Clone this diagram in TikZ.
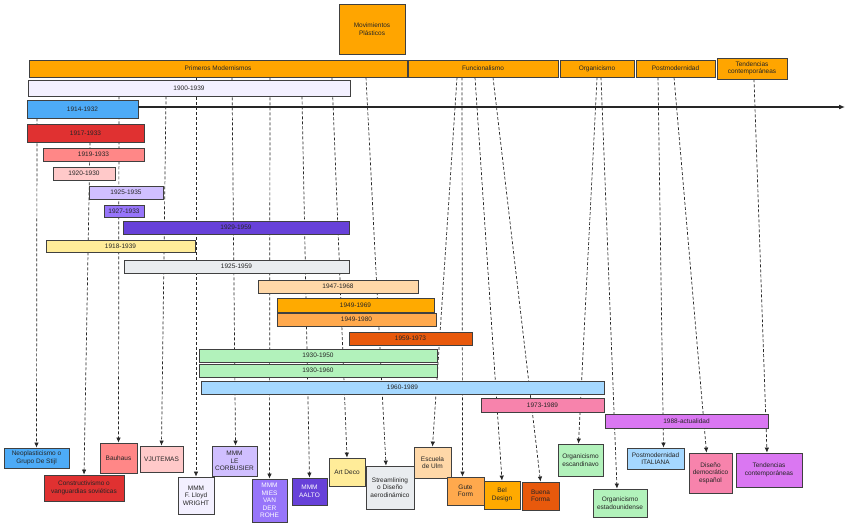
\documentclass[tikz,border=0pt]{standalone}
\usepackage{fontspec}
\setmainfont{Liberation Sans}
\usetikzlibrary{arrows.meta,backgrounds}
\definecolor{corange}{HTML}{FFA500}
\definecolor{clav}{HTML}{F3F0FF}
\definecolor{cblue}{HTML}{4DABF7}
\definecolor{cred}{HTML}{E03131}
\definecolor{cpink}{HTML}{FF8787}
\definecolor{clpink}{HTML}{FFC9C9}
\definecolor{clpurple}{HTML}{D0BFFF}
\definecolor{cpurple}{HTML}{9775FA}
\definecolor{cdpurple}{HTML}{6741D9}
\definecolor{cyellow}{HTML}{FFEC99}
\definecolor{cgrey}{HTML}{E9ECEF}
\definecolor{clorange}{HTML}{FFD8A8}
\definecolor{corangeb}{HTML}{FFAA00}
\definecolor{corangec}{HTML}{FFA94D}
\definecolor{cdorange}{HTML}{E8590C}
\definecolor{cgreen}{HTML}{B2F2BB}
\definecolor{clblue}{HTML}{A5D8FF}
\definecolor{crose}{HTML}{F783AC}
\definecolor{cviolet}{HTML}{DA77F2}
\begin{document}
\begin{tikzpicture}[x=1pt,y=-1pt,
  box/.style={draw=black!75, line width=0.8pt, inner sep=1pt, align=center,
    font=\fontsize{6.5}{7.5}\selectfont, text=black!85},
  wh/.style 2 args={minimum width=#1pt, minimum height=#2pt},
  conn/.style={draw=black!85, line width=0.7pt, dash pattern=on 3pt off 2pt,
    -{Latex[length=5pt,width=4.5pt]}},
  axisline/.style={draw=black!85, line width=1.2pt, -{Latex[length=6pt,width=5pt]}}]
\useasboundingbox (0,0) rectangle (848,527);
% category boxes
\node[box, fill=corange, wh={66}{50}] (mov) at (372,29) {Movimientos\\Plásticos};
\node[box, fill=corange, wh={378}{17}] (prim) at (218,68.5) {Primeros Modernismos};
\node[box, fill=corange, wh={150}{17}] (func) at (483,68.5) {Funcionalismo};
\node[box, fill=corange, wh={74}{17}] (org) at (597,68.5) {Organicismo};
\node[box, fill=corange, wh={79}{17}] (post) at (675.5,68.5) {Postmodernidad};
\node[box, fill=corange, wh={70}{21}] (tend) at (752,68.5) {Tendencias\\contemporáneas};
% date bars
\node[box, fill=clav, wh={322}{16}] (b1900) at (189,88) {1900-1939};
\node[box, fill=cblue, wh={111}{18}] (b1914) at (82.5,109) {1914-1932};
\node[box, fill=cred, wh={117}{18}] (b1917) at (85.5,133) {1917-1933};
\node[box, fill=cpink, wh={101}{13}] (b1919) at (93.5,154.5) {1919-1933};
\node[box, fill=clpink, wh={62}{13}] (b1920) at (84,173.5) {1920-1930};
\node[box, fill=clpurple, wh={74}{13}] (b1925) at (126,192.5) {1925-1935};
\node[box, fill=cpurple, wh={40}{12}] (b1927) at (124,211) {1927-1933};
\node[box, fill=cdpurple, wh={226}{13}] (b1929) at (236,227.5) {1929-1959};
\node[box, fill=cyellow, wh={149}{12}] (bart) at (120.5,246) {1918-1939};
\node[box, fill=cgrey, wh={225}{13}] (bstream) at (236.5,266.5) {1925-1959};
\node[box, fill=clorange, wh={160}{13}] (bulm) at (338,286.5) {1947-1968};
\node[box, fill=corangeb, wh={157}{14}] (bbel) at (355.5,305) {1949-1969};
\node[box, fill=corangec, wh={159}{13}] (bgute) at (356.5,319.5) {1949-1980};
\node[box, fill=cdorange, wh={123}{13}] (bbuena) at (410.5,338.5) {1959-1973};
\node[box, fill=cgreen, wh={238}{13}] (borgesc) at (318,355.5) {1930-1950};
\node[box, fill=cgreen, wh={238}{13}] (borgus) at (318,370.5) {1930-1960};
\node[box, fill=clblue, wh={403}{13}] (bpost) at (402.5,387.5) {1960-1989};
\node[box, fill=crose, wh={123}{14}] (bdem) at (542.5,405) {1973-1989};
\node[box, fill=cviolet, wh={163}{14}] (btend) at (686.5,421) {1988-actualidad};
% movement boxes
\node[box, fill=cblue, wh={65}{20}] (neo) at (36.5,458) {Neoplasticismo o\\Grupo De Stijl};
\node[box, fill=cred, wh={80}{26}] (constr) at (84,488) {Constructivismo o\\vanguardias soviéticas};
\node[box, fill=cpink, wh={37}{30}] (bauhaus) at (118.5,458) {Bauhaus};
\node[box, fill=clpink, wh={43}{26}] (vju) at (161.5,459) {VJUTEMAS};
\node[box, fill=clav, wh={36}{37}] (wright) at (196,495.5) {MMM\\F. Lloyd\\WRIGHT};
\node[box, fill=clpurple, wh={45}{30}] (corb) at (234.5,461) {MMM\\LE\\CORBUSIER};
\node[box, fill=cpurple, wh={35}{43}, text=white] (mies) at (269.5,500.5) {MMM\\MIES\\VAN\\DER\\ROHE};
\node[box, fill=cdpurple, wh={35}{27}, text=white] (aalto) at (309.5,491.5) {MMM\\AALTO};
\node[box, fill=cyellow, wh={36}{28}] (artdeco) at (347,472) {Art Deco};
\node[box, fill=cgrey, wh={48}{43}] (stream) at (390,487.5) {Streamlining\\o Diseño\\aerodinámico};
\node[box, fill=clorange, wh={37}{31}] (ulm) at (432.5,462.5) {Escuela\\de Ulm};
\node[box, fill=corangec, wh={37}{28}] (gute) at (465.5,491) {Gute\\Form};
\node[box, fill=corangeb, wh={36}{28}] (bel) at (502,495) {Bel\\Design};
\node[box, fill=cdorange, wh={37}{28}] (buena) at (540.5,496) {Buena\\Forma};
\node[box, fill=cgreen, wh={45}{32}] (orgesc) at (580.5,460) {Organicismo\\escandinavo};
\node[box, fill=cgreen, wh={54}{28}] (orgus) at (620,503) {Organicismo\\estadounidense};
\node[box, fill=clblue, wh={57}{21}] (postit) at (655.5,458.5) {Postmodernidad\\ITALIANA};
\node[box, fill=crose, wh={43}{40}] (dem) at (710.5,473) {Diseño\\democrático\\español};
\node[box, fill=cviolet, wh={66}{34}] (tendb) at (769,470) {Tendencias\\contemporáneas};
% axis
\coordinate (axisend) at (845,107);
\draw[axisline] ([yshift=2pt]b1914.east) -- (axisend);
% connectors
\begin{scope}[on background layer]
\draw[conn] (37,0 |- b1914.south) -- (neo.north);
\draw[conn] (90,0 |- b1917.south) -- (constr.north);
\draw[conn] (119,0 |- b1900.south) -- (bauhaus.north);
\draw[conn] (166,0 |- b1900.south) -- (vju.north);
\draw[conn] (196,0 |- prim.south) -- (wright.north);
\draw[conn] (232,0 |- prim.south) -- ([xshift=1pt]corb.north);
\draw[conn] (270,0 |- prim.south) -- (mies.north);
\draw[conn] (302,0 |- b1900.south) -- (aalto.north);
\draw[conn] (332,0 |- prim.south) -- (artdeco.north);
\draw[conn] (366,0 |- prim.south) -- ([xshift=-4pt]stream.north);
\draw[conn] (457,0 |- func.south) -- (ulm.north);
\draw[conn] (462,0 |- func.south) -- ([xshift=-3pt]gute.north);
\draw[conn] (475,0 |- func.south) -- (bel.north);
\draw[conn] (493,0 |- func.south) -- (buena.north);
\draw[conn] (597,0 |- org.south) -- ([xshift=-2pt]orgesc.north);
\draw[conn] (601,0 |- org.south) -- ([xshift=-3pt]orgus.north);
\draw[conn] (658,0 |- post.south) -- ([xshift=8pt]postit.north);
\draw[conn] (674,0 |- post.south) -- ([xshift=-4pt]dem.north);
\draw[conn] (754,0 |- tend.south) -- ([xshift=-2pt]tendb.north);
\end{scope}
\end{tikzpicture}
\end{document}
